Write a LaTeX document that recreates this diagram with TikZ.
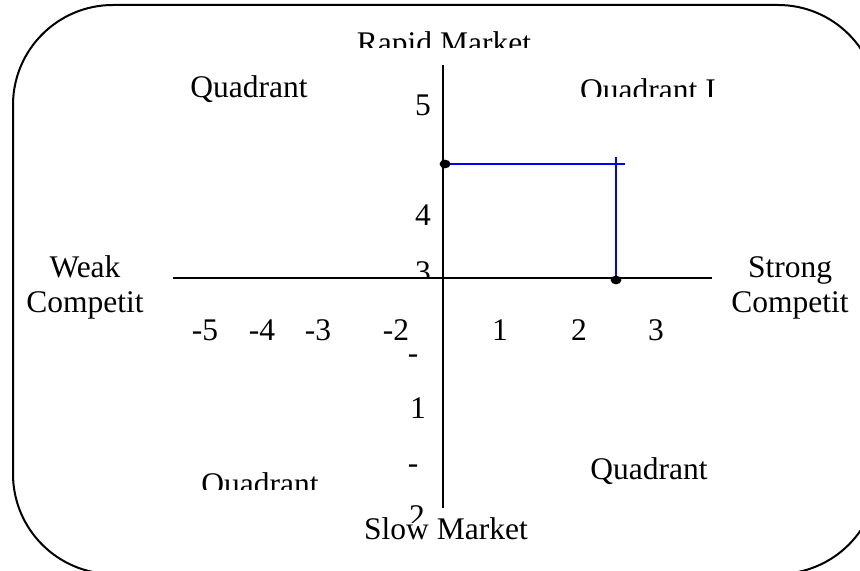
\documentclass[tikz,border=0pt]{standalone}
\usepackage{fontspec}
\setmainfont{Liberation Serif}
\usepackage{tikz}
\usetikzlibrary{shapes.geometric, positioning}

\begin{document}
\begin{tikzpicture}[x=0.5pt, y=-0.5pt,
    every node/.style={font=\fontsize{15.75}{17.5}\selectfont, inner sep=0pt},
    lbl/.style={anchor=base},
    side/.style={anchor=base, align=center},
    axis/.style={draw=black, line width=1pt},
    blueline/.style={draw=blue, line width=1pt},
    dot/.style={ellipse, fill=black, inner sep=0pt, minimum width=5.4pt, minimum height=4.4pt}
]
\useasboundingbox (0,0) rectangle (860,571);
\fill[white] (0,0) rectangle (860,571);
\clip (0,0) rectangle (860,571);

% frame (its right side lies past the page edge)
\draw[line width=1pt, rounded corners=50pt] (13,5) rectangle (878,574);

% axes
\coordinate (xl) at (173,278);
\coordinate (xr) at (712,278);
\coordinate (yt) at (443,65);
\coordinate (yb) at (443,508);
\draw[axis] (xl) -- (xr);
\draw[axis] (yt) -- (yb);

% position lines
\coordinate (d1) at (445,164);
\coordinate (d2) at (616,280);
\coordinate (hend) at (625,164);
\coordinate (vtop) at (616,157);
\draw[blueline] (d1) -- (hend);
\draw[blueline] (vtop) -- (d2);
\node[dot] (ymark) at (d1) {};
\node[dot] (xmark) at (d2) {};

% axis ends
\begin{scope}
  \clip (0,0) rectangle (860,48);
  \node[lbl] (rapid) at (444,54) {Rapid Market};
\end{scope}
\node[lbl, fill=white] (slow) at (446,539) {Slow Market};
\node[side] (weak) at (85,313) {Weak\\Competit};
\node[side] (strong) at (790,313) {Strong\\Competit};

% quadrants
\node[lbl] (q2) at (249,98) {Quadrant};
\begin{scope}
  \clip (0,0) rectangle (860,97);
  \node[lbl] (q1) at (648,101) {Quadrant I};
\end{scope}
\begin{scope}
  \clip (0,0) rectangle (860,489);
  \node[lbl] (q3) at (260,494) {Quadrant};
\end{scope}
\node[lbl] (q4) at (649,479) {Quadrant};

% scale on the vertical axis
\node[lbl] (v5) at (423,116) {5};
\node[lbl] (v4) at (423,226) {4};
\begin{scope}
  \clip (0,0) rectangle (860,277);
  \node[lbl] (v3) at (423,283) {3};
\end{scope}
\node[lbl] (vm1) at (413,363) {-};
\node[lbl] (v1) at (418,418) {1};
\node[lbl] (vm2) at (413,473) {-};
\begin{scope}
  \clip (0,0) rectangle (860,522);
  \node[lbl] (v2) at (417,526) {2};
\end{scope}

% scale on the horizontal axis
\foreach \lab/\xpos in {-5/205, -4/262, -3/318, -2/396, 1/500, 2/579, 3/656}
  \node[lbl] (h\xpos) at (\xpos,340) {\lab};

\end{tikzpicture}
\end{document}
